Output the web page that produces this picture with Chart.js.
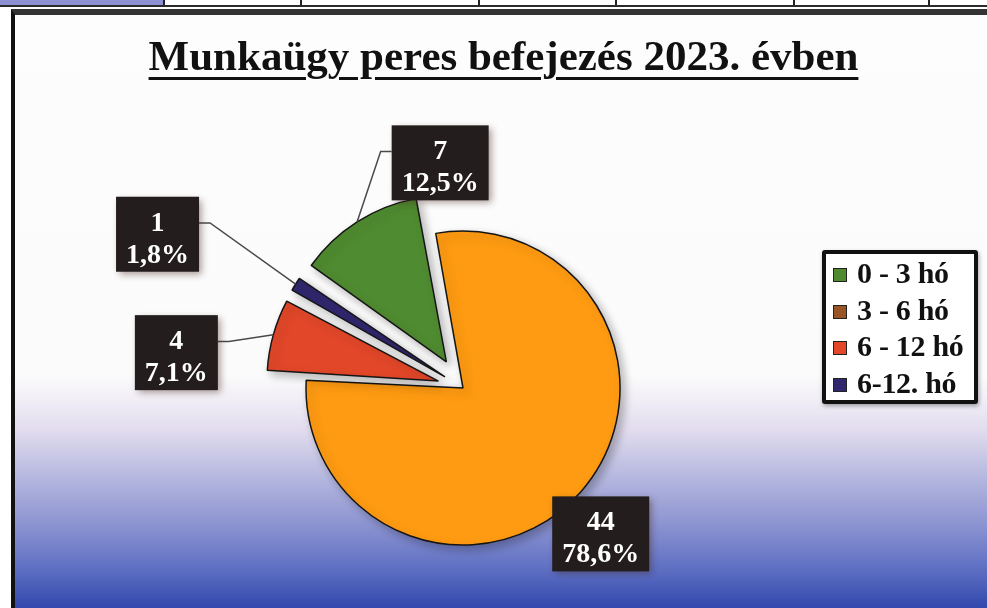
<!DOCTYPE html>
<html lang="hu">
<head>
<meta charset="utf-8">
<title>Munkaügy peres befejezés 2023. évben</title>
<script src="https://cdn.jsdelivr.net/npm/chart.js@4"></script>
<style>
  html, body { margin: 0; padding: 0; width: 987px; height: 608px; overflow: hidden; background: #fff; }
  body { position: relative; font-family: "Liberation Serif", "Times New Roman", serif; }
  /* scanned table row above the chart */
  .strip { position: absolute; left: 0; top: 0; width: 987px; height: 5px; border-bottom: 2px solid #2b2b2b; }
  .strip span { position: absolute; top: 0; height: 5px; border-right: 2px solid #222; }
  .frame {
    position: absolute; left: 11px; top: 9px; width: 990px; height: 610px;
    border-top: 6px solid #333; border-left: 4px solid #111;
    background: linear-gradient(to bottom,
      #fdfdfd 0%, #fbfbfb 59%, #f1eef6 63%, #e2dcee 68%,
      #b9bbe0 75%, #8f96d2 83%, #5d6ec2 91%, #3349ad 97%, #2c43a6 100%);
  }
  #chart { position: absolute; left: 0; top: 0; }
  .title {
    position: absolute; left: 12px; width: 983px; top: 35px;
    text-align: center; font-weight: bold; font-size: 43px; line-height: 42px; color: #111;
    text-decoration: underline; text-decoration-thickness: 3px; text-underline-offset: 7px;
  }
  .legend {
    position: absolute; left: 822px; top: 250px; width: 148px; height: 145px;
    border: 4px solid #111; border-radius: 3px; background: #fff; padding: 1px 0 0 0;
    box-shadow: 1px 2px 4px rgba(0,0,0,.35);
  }
  .legend div { height: 36.5px; line-height: 36.5px; font-weight: bold; font-size: 30px; color: #111; white-space: nowrap; letter-spacing: -0.3px; }
  .legend i { display: inline-block; width: 12px; height: 12px; border: 1px solid #222; margin: 0 10px 0 7px; vertical-align: 1px; }
</style>
</head>
<body>
<div class="strip" id="strip"></div>
<div class="frame"></div>
<canvas id="chart" width="987" height="608"></canvas>
<div class="title">Munkaügy peres befejezés 2023. évben</div>
<div class="legend" id="legend"></div>

<script>
/* ── data ───────────────────────────────────── */
var LABELS = ['0 - 3 hó', '3 - 6 hó', '6 - 12 hó', '6-12. hó'];
var COUNTS = [7, 44, 4, 1];

/* ── styling ────────────────────────────────── */
var COLORS = ['#4f8b30', '#ff9b12', '#e24729', '#30276f'];
var SWATCH = ['#4f8b30', '#9a5526', '#e24729', '#30276f'];
var PULL = [40, 0, 40, 40];                 // px each slice is pulled out
var LABEL_SHIFT = [[83, -59], [20, 42], [-97, 18], [-138, -50]]; // box centre vs. slice edge
var CELL_LINES = [165, 302, 480, 617, 795, 930];

(function () {
  'use strict';

  // scanned table strip at top
  var strip = document.getElementById('strip');
  var prev = 0;
  CELL_LINES.forEach(function (x, i) {
    var s = document.createElement('span');
    s.style.left = prev + 'px';
    s.style.width = (x - prev - 2) + 'px';
    if (i === 0) s.style.background = '#8d91d3';
    strip.appendChild(s);
    prev = x;
  });

  // legend
  var legend = document.getElementById('legend');
  LABELS.forEach(function (lab, i) {
    var row = document.createElement('div');
    var sw = document.createElement('i');
    sw.style.background = SWATCH[i];
    row.appendChild(sw);
    row.appendChild(document.createTextNode(lab));
    legend.appendChild(row);
  });

  var total = COUNTS.reduce(function (a, b) { return a + b; }, 0);

  // Chart.js moves an arc by offset/4 * (2 - sin(circ)); invert that so the pull is in px
  function offsetFor(c) {
    var pull = PULL[c.dataIndex];
    if (!pull) return 0;
    var circ = COUNTS[c.dataIndex] / total * Math.PI * 2;
    var fix = 1 - Math.sin(Math.min(Math.PI, circ));
    return pull * 4 / (1 + fix);
  }

  var shadowPlugin = {
    id: 'pieShadow',
    beforeDatasetsDraw: function (chart) {
      var ctx = chart.ctx;
      ctx.save();
      ctx.shadowColor = 'rgba(0,0,0,0.28)';
      ctx.shadowBlur = 10;
      ctx.shadowOffsetX = 4;
      ctx.shadowOffsetY = 4;
    },
    afterDatasetsDraw: function (chart) { chart.ctx.restore(); }
  };

  var boxLabels = {
    id: 'boxLabels',
    afterDatasetsDraw: function (chart) {
      var ctx = chart.ctx;
      var meta = chart.getDatasetMeta(0);
      ctx.save();
      ctx.font = 'bold 28px "Liberation Serif", "Times New Roman", serif';
      meta.data.forEach(function (arc, i) {
        var p = arc.getProps(['x', 'y', 'startAngle', 'endAngle', 'outerRadius'], true);
        var mid = (p.startAngle + p.endAngle) / 2;
        var r = p.outerRadius + PULL[i];
        var ax = p.x + Math.cos(mid) * r;
        var ay = p.y + Math.sin(mid) * r;
        var line1 = String(COUNTS[i]);
        var line2 = (COUNTS[i] / total * 100).toFixed(1).replace('.', ',') + '%';
        var w = Math.max(ctx.measureText(line1).width, ctx.measureText(line2).width) + 20;
        var h = 75;
        var cx = ax + LABEL_SHIFT[i][0];
        var cy = ay + LABEL_SHIFT[i][1];
        var left = cx - w / 2, top = cy - h / 2;

        // leader line with a short elbow into the box
        var attachY = top + h * 0.35, attachX = null, elbowX = null;
        if (ax < left) { attachX = left; elbowX = left - 11; }
        else if (ax > left + w) { attachX = left + w; elbowX = left + w + 11; }
        if (attachX !== null) {
          ctx.strokeStyle = '#4a4a4a';
          ctx.lineWidth = 1.5;
          ctx.beginPath();
          ctx.moveTo(ax, ay);
          ctx.lineTo(elbowX, attachY);
          ctx.lineTo(attachX, attachY);
          ctx.stroke();
        }

        ctx.save();
        ctx.shadowColor = 'rgba(70,40,30,0.45)';
        ctx.shadowBlur = 7;
        ctx.shadowOffsetX = 3;
        ctx.shadowOffsetY = 3;
        ctx.fillStyle = '#241d1d';
        ctx.fillRect(left, top, w, h);
        ctx.restore();

        ctx.fillStyle = '#fff';
        ctx.textAlign = 'center';
        ctx.textBaseline = 'alphabetic';
        ctx.fillText(line1, cx, top + 34);
        ctx.fillText(line2, cx, top + 66);
      });
      ctx.restore();
    }
  };

  new Chart(document.getElementById('chart'), {
    type: 'pie',
    data: {
      labels: LABELS,
      datasets: [{
        data: COUNTS,
        backgroundColor: COLORS,
        borderColor: '#151515',
        borderWidth: 1.5,
        offset: offsetFor
      }]
    },
    options: {
      responsive: false,
      animation: false,
      events: [],
      rotation: -55,
      radius: 157,
      layout: { padding: { left: 300, right: 361, top: 228, bottom: 60 } },
      plugins: {
        legend: { display: false },
        tooltip: { enabled: false },
        title: { display: false }
      }
    },
    plugins: [shadowPlugin, boxLabels]
  });
}());
</script>
</body>
</html>
